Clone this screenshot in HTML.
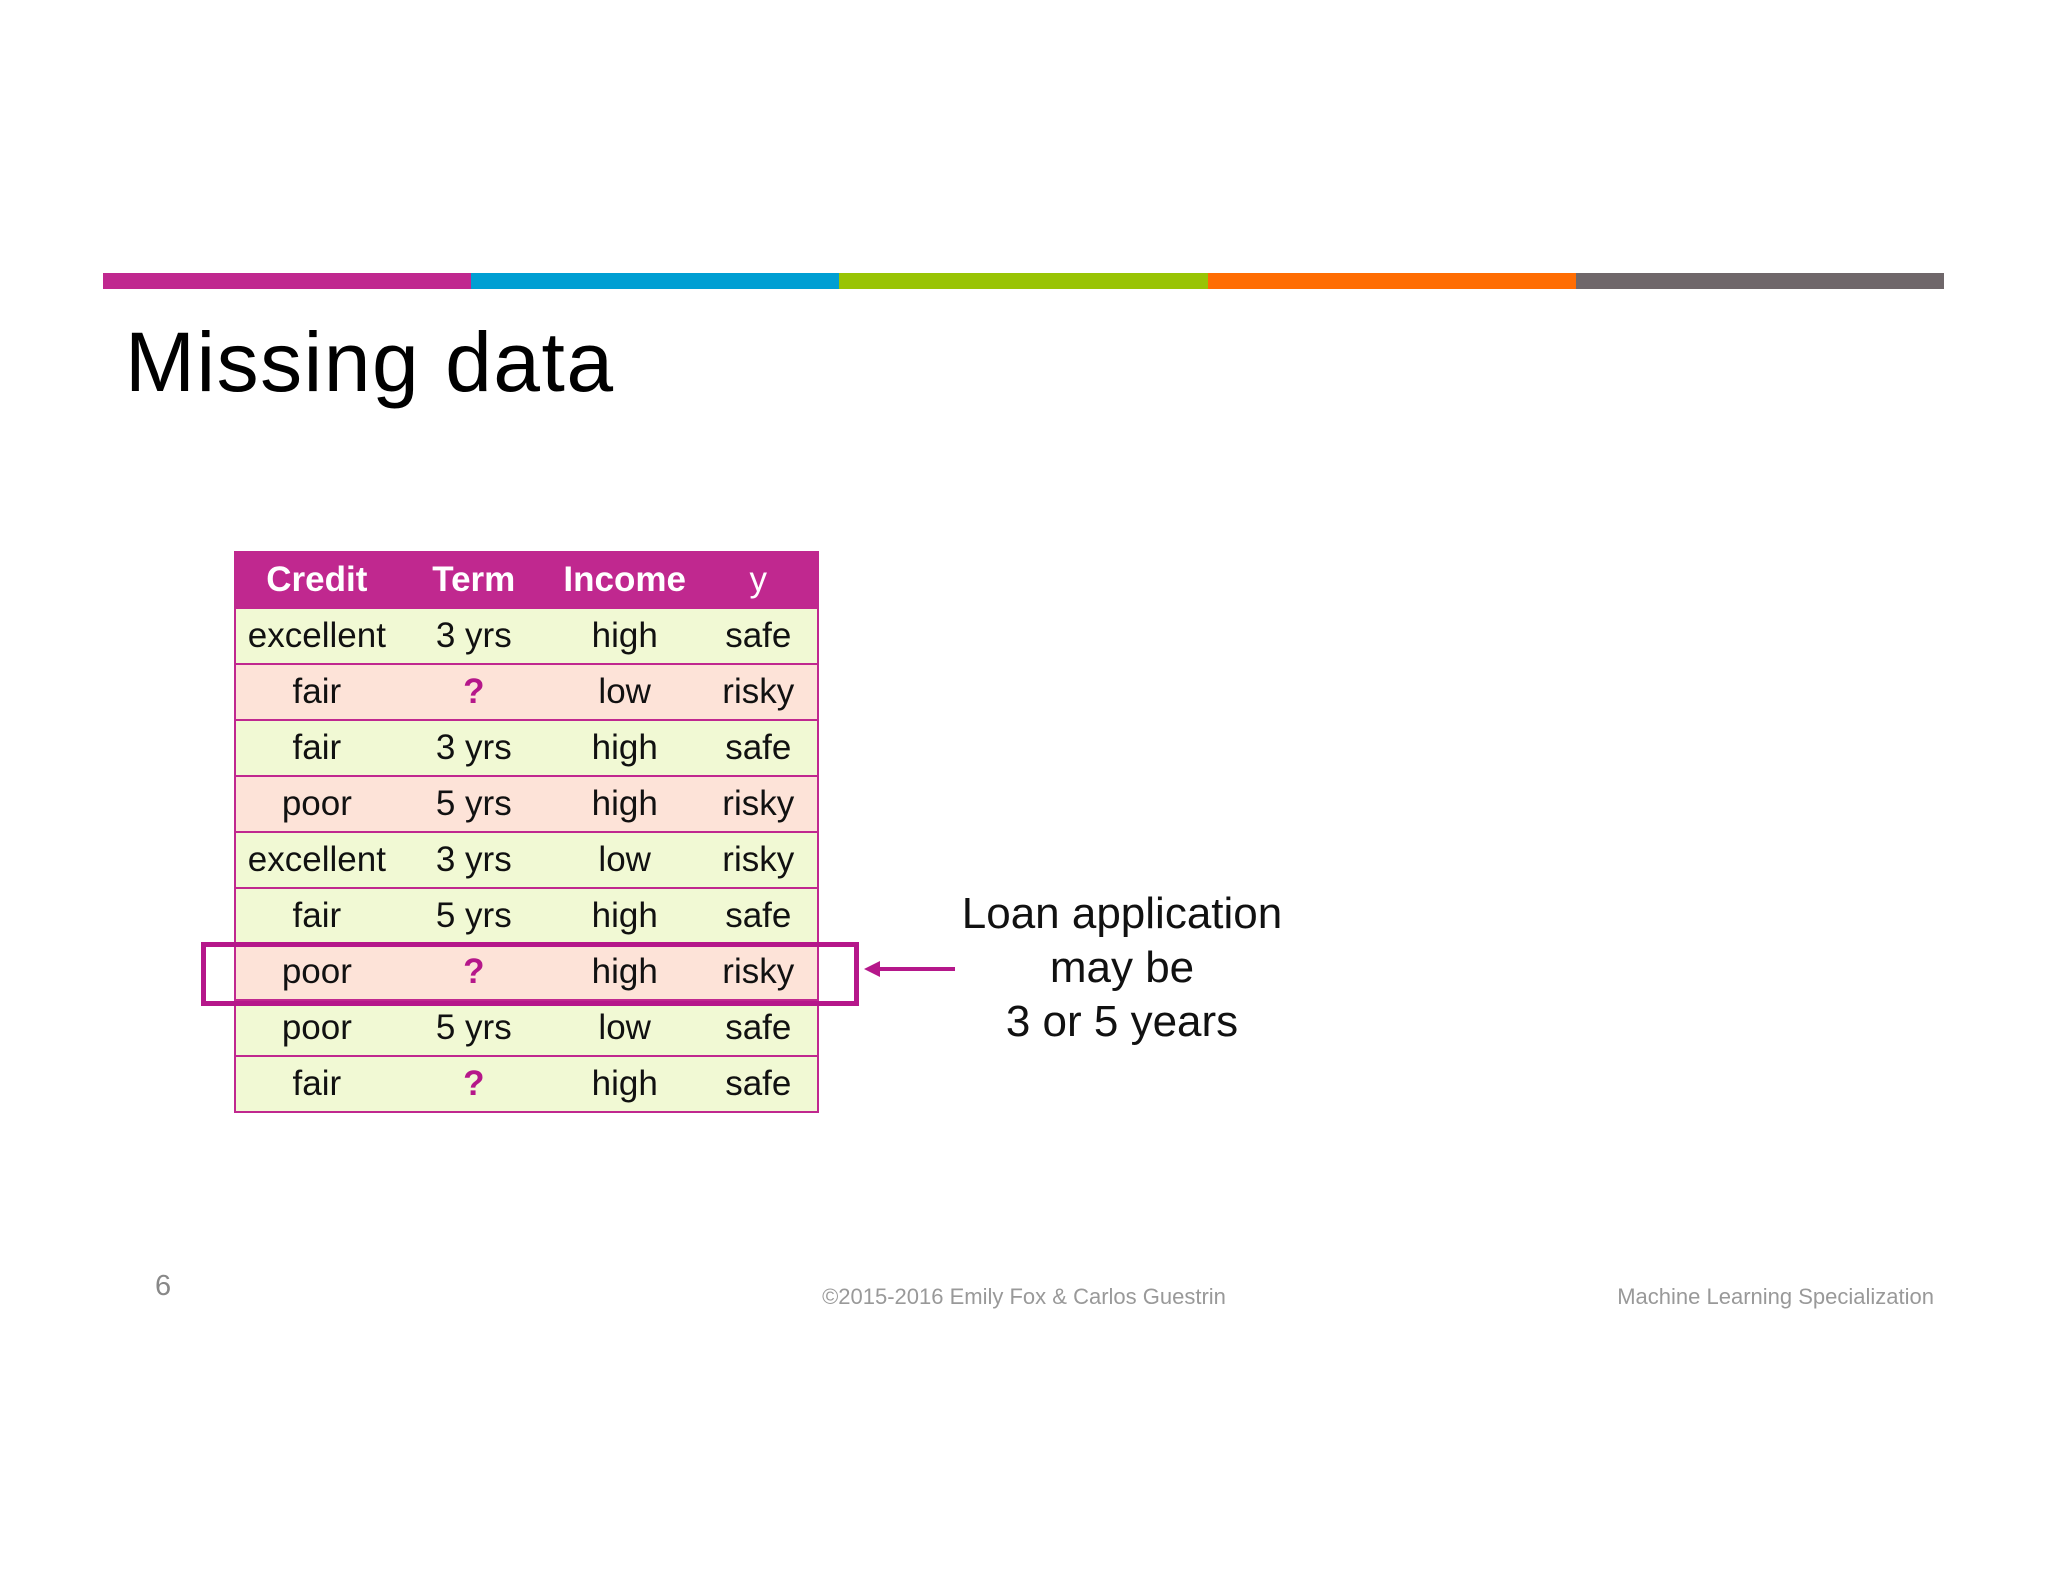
<!DOCTYPE html>
<html><head><meta charset="utf-8"><style>
body{margin:0;width:2048px;height:1582px;background:#fff;font-family:"Liberation Sans",sans-serif;position:relative;overflow:hidden}
.abs{position:absolute}
table{border-collapse:collapse;position:absolute;left:234px;top:551px;width:585px;font-size:35px;color:#111}
td,th{border:2px solid #c0288f;text-align:center;padding:0;height:54px;border-left:none;border-right:none}
th{background:#c0288f;color:#fff;font-weight:bold;height:54px}
tr.g td{background:#f1f9d4}
tr.p td{background:#fde3d8}
table{border-left:2px solid #c0288f;border-right:2px solid #c0288f}
.q{color:#b5178a;font-weight:bold}
</style></head><body>
<div class="abs" style="left:103px;top:273px;height:16px;width:1841px;display:flex">
<div style="flex:1;background:#c0288f"></div><div style="flex:1;background:#009fd3"></div><div style="flex:1;background:#99c404"></div><div style="flex:1;background:#ff6d03"></div><div style="flex:1;background:#6f676a"></div></div>
<div class="abs" style="left:125px;top:314px;font-size:84px;letter-spacing:1.5px;color:#000">Missing data</div>
<table>
<colgroup><col style="width:163px"><col style="width:153px"><col style="width:150px"><col style="width:119px"></colgroup>
<tr><th>Credit</th><th>Term</th><th>Income</th><th style="font-weight:normal">y</th></tr>
<tr class="g"><td>excellent</td><td>3 yrs</td><td>high</td><td>safe</td></tr>
<tr class="p"><td>fair</td><td class="q">?</td><td>low</td><td>risky</td></tr>
<tr class="g"><td>fair</td><td>3 yrs</td><td>high</td><td>safe</td></tr>
<tr class="p"><td>poor</td><td>5 yrs</td><td>high</td><td>risky</td></tr>
<tr class="g"><td>excellent</td><td>3 yrs</td><td>low</td><td>risky</td></tr>
<tr class="g"><td>fair</td><td>5 yrs</td><td>high</td><td>safe</td></tr>
<tr class="p"><td>poor</td><td class="q">?</td><td>high</td><td>risky</td></tr>
<tr class="g"><td>poor</td><td>5 yrs</td><td>low</td><td>safe</td></tr>
<tr class="g"><td>fair</td><td class="q">?</td><td>high</td><td>safe</td></tr>
</table>
<div class="abs" style="left:201px;top:942px;width:648px;height:54px;border:5px solid #b5178a"></div>
<svg class="abs" style="left:860px;top:955px" width="100" height="30"><line x1="95" y1="14" x2="18" y2="14" stroke="#b5178a" stroke-width="4"/><polygon points="4,14 20,6 20,22" fill="#b5178a"/></svg>
<div class="abs" style="left:872px;top:887px;width:500px;text-align:center;font-size:44px;line-height:54px;color:#111">Loan application<br>may be<br>3 or 5 years</div>
<div class="abs" style="left:155px;top:1270px;font-size:29px;color:#888">6</div>
<div class="abs" style="left:724px;top:1284px;width:600px;text-align:center;font-size:22px;color:#999">©2015-2016 Emily Fox &amp; Carlos Guestrin</div>
<div class="abs" style="right:114px;top:1284px;font-size:22px;color:#999">Machine Learning Specialization</div>
</body></html>
